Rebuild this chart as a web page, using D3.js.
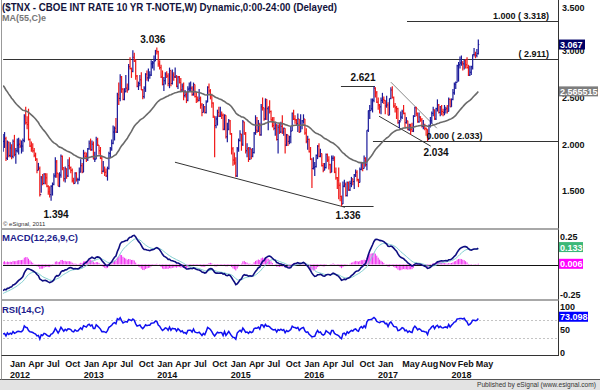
<!DOCTYPE html>
<html>
<head>
<meta charset="utf-8">
<script src="https://cdn.jsdelivr.net/npm/d3@7"></script>
<style>
  body { margin: 0; background: #fff; }
  svg { display: block; font-family: "Liberation Sans", Arial, sans-serif; }
</style>
</head>
<body>
<div id="chart"></div>
<script>
// Weekly closes before the first drawn bar (Dec 2010 - Nov 2011), only used to warm up the studies
const priorClose = [
  2.95, 3.32, 3.33, 3.39, 3.29, 3.32, 3.34, 3.40, 3.32, 3.64, 3.63, 3.58, 3.42,
  3.49, 3.40, 3.27, 3.44, 3.45, 3.58, 3.41, 3.40, 3.29, 3.15, 3.17, 3.15, 3.06,
  2.99, 2.97, 2.94, 2.87, 3.18, 3.03, 2.91, 2.96, 2.79, 2.56, 2.24, 2.07, 2.19,
  1.99, 1.92, 2.06, 1.84, 1.92, 2.08, 2.24, 2.23, 2.33, 2.04, 2.04, 2.01, 1.97
];

// First drawn weekly bar (Monday)
const firstWeek = "2011-11-28";

// Weekly close, one line per year (Dec 2011 ... May 2018)
const weekClose = [
  2.03, 2.06, 1.85, 2.02, 1.88,
  1.96, 1.87, 2.03, 1.89, 1.93, 1.99, 2.00, 1.98, 1.98, 2.04, 2.30, 2.23, 2.21, 2.05, 1.98, 1.96, 1.93, 1.88, 1.84, 1.72, 1.74, 1.46, 1.64, 1.58, 1.68, 1.64, 1.55, 1.49, 1.46, 1.55, 1.57, 1.66, 1.81, 1.69, 1.55, 1.67, 1.87, 1.75, 1.63, 1.74, 1.66, 1.77, 1.75, 1.72, 1.61, 1.58, 1.69, 1.62, 1.62, 1.70, 1.77, 1.70,
  1.90, 1.87, 1.84, 1.95, 2.01, 1.94, 2.00, 1.84, 1.84, 2.05, 1.99, 1.93, 1.85, 1.71, 1.72, 1.70, 1.66, 1.74, 1.90, 1.95, 2.01, 2.13, 2.17, 2.13, 2.53, 2.49, 2.72, 2.59, 2.48, 2.56, 2.60, 2.58, 2.83, 2.81, 2.78, 2.93, 2.89, 2.73, 2.62, 2.65, 2.69, 2.58, 2.51, 2.60, 2.75, 2.71, 2.74, 2.74, 2.86, 2.87, 2.89, 3.00,
  2.99, 2.86, 2.82, 2.72, 2.64, 2.68, 2.75, 2.73, 2.65, 2.79, 2.65, 2.74, 2.72, 2.72, 2.62, 2.72, 2.66, 2.58, 2.62, 2.52, 2.53, 2.47, 2.59, 2.60, 2.60, 2.53, 2.64, 2.51, 2.48, 2.47, 2.49, 2.42, 2.34, 2.40, 2.34, 2.45, 2.61, 2.57, 2.53, 2.44, 2.30, 2.20, 2.27, 2.34, 2.30, 2.32, 2.31, 2.16, 2.31, 2.08, 2.16, 2.25,
  2.11, 1.95, 1.83, 1.80, 1.66, 1.95, 2.04, 2.11, 2.00, 2.24, 2.11, 1.93, 1.95, 1.84, 1.95, 1.87, 1.91, 2.12, 2.15, 2.14, 2.21, 2.10, 2.40, 2.39, 2.27, 2.48, 2.38, 2.40, 2.35, 2.26, 2.20, 2.17, 2.20, 2.05, 2.18, 2.13, 2.19, 2.13, 2.17, 1.99, 2.10, 2.03, 2.08, 2.14, 2.33, 2.27, 2.26, 2.22, 2.27, 2.13, 2.20, 2.25,
  2.27, 2.12, 2.03, 2.05, 1.92, 1.84, 1.74, 1.75, 1.76, 1.88, 1.98, 1.87, 1.90, 1.77, 1.72, 1.75, 1.89, 1.83, 1.78, 1.70, 1.85, 1.85, 1.70, 1.64, 1.61, 1.56, 1.44, 1.36, 1.55, 1.57, 1.45, 1.59, 1.51, 1.58, 1.63, 1.60, 1.67, 1.70, 1.62, 1.59, 1.73, 1.80, 1.74, 1.85, 1.78, 2.15, 2.36, 2.36, 2.38, 2.47, 2.60, 2.55, 2.45,
  2.42, 2.40, 2.47, 2.48, 2.47, 2.41, 2.42, 2.31, 2.49, 2.58, 2.50, 2.41, 2.39, 2.38, 2.23, 2.24, 2.29, 2.35, 2.33, 2.23, 2.25, 2.16, 2.21, 2.16, 2.14, 2.30, 2.39, 2.33, 2.24, 2.29, 2.26, 2.19, 2.19, 2.17, 2.16, 2.05, 2.20, 2.25, 2.33, 2.37, 2.27, 2.38, 2.42, 2.34, 2.40, 2.35, 2.34, 2.37, 2.38, 2.35, 2.48, 2.40,
  2.48, 2.55, 2.64, 2.66, 2.84, 2.85, 2.87, 2.87, 2.86, 2.90, 2.85, 2.82, 2.74, 2.77, 2.83, 2.96, 2.96, 2.95, 2.97, 3.067
];

const weekHigh = [
  2.11, 2.13, 2.08, 2.04, 2.03,
  2.02, 2.00, 2.05, 2.10, 1.96, 2.06, 2.07, 2.05, 2.04, 2.06, 2.32, 2.40, 2.30, 2.38, 2.06, 2.03, 2.01, 1.96, 1.91, 1.85, 1.80, 1.76, 1.66, 1.68, 1.69, 1.69, 1.69, 1.56, 1.55, 1.56, 1.59, 1.69, 1.86, 1.83, 1.69, 1.70, 1.89, 1.88, 1.75, 1.76, 1.74, 1.84, 1.86, 1.76, 1.74, 1.64, 1.70, 1.70, 1.64, 1.75, 1.84, 1.80,
  1.94, 1.92, 1.91, 1.96, 2.04, 2.06, 2.04, 2.03, 1.92, 2.08, 2.07, 1.99, 1.97, 1.88, 1.82, 1.76, 1.74, 1.76, 1.92, 1.97, 2.05, 2.20, 2.19, 2.28, 2.55, 2.66, 2.75, 2.73, 2.60, 2.60, 2.74, 2.65, 2.86, 2.93, 2.82, 3.005, 2.98, 2.91, 2.74, 2.67, 2.74, 2.77, 2.59, 2.62, 2.76, 2.79, 2.81, 2.78, 2.90, 2.89, 2.95, 3.01,
  3.036, 3.00, 2.90, 2.85, 2.79, 2.72, 2.77, 2.78, 2.76, 2.82, 2.79, 2.80, 2.77, 2.82, 2.74, 2.73, 2.73, 2.71, 2.65, 2.66, 2.58, 2.56, 2.62, 2.66, 2.67, 2.62, 2.66, 2.64, 2.56, 2.51, 2.59, 2.51, 2.44, 2.43, 2.41, 2.47, 2.62, 2.65, 2.59, 2.54, 2.45, 2.30, 2.30, 2.37, 2.40, 2.40, 2.35, 2.33, 2.32, 2.31, 2.23, 2.27,
  2.26, 2.12, 1.97, 1.91, 1.86, 1.97, 2.06, 2.15, 2.11, 2.26, 2.24, 2.13, 2.01, 1.97, 1.97, 1.95, 1.96, 2.13, 2.31, 2.29, 2.26, 2.23, 2.43, 2.50, 2.39, 2.49, 2.48, 2.40, 2.47, 2.36, 2.29, 2.29, 2.24, 2.22, 2.21, 2.23, 2.24, 2.31, 2.18, 2.17, 2.11, 2.10, 2.09, 2.19, 2.34, 2.37, 2.31, 2.27, 2.33, 2.27, 2.32, 2.26,
  2.32, 2.27, 2.17, 2.09, 2.06, 1.97, 1.85, 1.86, 1.81, 1.89, 1.99, 2.01, 1.95, 1.90, 1.80, 1.80, 1.90, 1.90, 1.87, 1.79, 1.88, 1.88, 1.87, 1.75, 1.65, 1.75, 1.59, 1.45, 1.60, 1.62, 1.59, 1.60, 1.60, 1.61, 1.65, 1.63, 1.68, 1.73, 1.72, 1.63, 1.75, 1.81, 1.80, 1.88, 1.86, 2.15, 2.36, 2.42, 2.49, 2.49, 2.621, 2.61, 2.57,
  2.50, 2.43, 2.50, 2.55, 2.51, 2.47, 2.52, 2.45, 2.49, 2.61, 2.62, 2.51, 2.44, 2.41, 2.39, 2.26, 2.35, 2.37, 2.42, 2.34, 2.29, 2.25, 2.22, 2.22, 2.23, 2.31, 2.40, 2.40, 2.34, 2.34, 2.30, 2.28, 2.26, 2.22, 2.18, 2.16, 2.21, 2.29, 2.35, 2.40, 2.37, 2.39, 2.48, 2.43, 2.41, 2.42, 2.38, 2.42, 2.40, 2.42, 2.50, 2.49,
  2.49, 2.59, 2.66, 2.67, 2.85, 2.88, 2.94, 2.95, 2.89, 2.91, 2.91, 2.93, 2.85, 2.84, 2.84, 2.96, 3.03, 2.99, 3.02, 3.12
];

const weekLow = [
  1.92, 1.96, 1.82, 1.83, 1.86,
  1.86, 1.84, 1.85, 1.87, 1.79, 1.91, 1.89, 1.96, 1.90, 1.92, 2.02, 2.21, 2.16, 2.04, 1.97, 1.92, 1.91, 1.86, 1.82, 1.69, 1.72, 1.44, 1.48, 1.56, 1.57, 1.57, 1.54, 1.46, 1.43, 1.394, 1.45, 1.56, 1.64, 1.64, 1.55, 1.54, 1.64, 1.72, 1.60, 1.59, 1.63, 1.65, 1.73, 1.69, 1.59, 1.57, 1.58, 1.60, 1.57, 1.61, 1.70, 1.69,
  1.70, 1.84, 1.81, 1.82, 1.94, 1.93, 1.93, 1.84, 1.81, 1.84, 1.98, 1.89, 1.84, 1.68, 1.70, 1.66, 1.65, 1.61, 1.73, 1.85, 1.93, 2.00, 2.04, 2.12, 2.12, 2.42, 2.46, 2.55, 2.47, 2.47, 2.56, 2.55, 2.58, 2.80, 2.71, 2.77, 2.88, 2.69, 2.61, 2.58, 2.62, 2.58, 2.48, 2.49, 2.56, 2.68, 2.67, 2.70, 2.73, 2.81, 2.79, 2.89,
  2.96, 2.83, 2.80, 2.71, 2.63, 2.57, 2.64, 2.71, 2.62, 2.60, 2.62, 2.64, 2.68, 2.71, 2.61, 2.59, 2.65, 2.57, 2.57, 2.47, 2.50, 2.44, 2.46, 2.57, 2.57, 2.52, 2.52, 2.50, 2.44, 2.45, 2.46, 2.38, 2.30, 2.34, 2.33, 2.33, 2.45, 2.54, 2.48, 2.39, 2.28, 1.86, 2.17, 2.20, 2.29, 2.29, 2.27, 2.15, 2.15, 2.06, 2.02, 2.15,
  2.10, 1.89, 1.77, 1.78, 1.65, 1.65, 1.92, 2.03, 1.93, 1.98, 2.10, 1.90, 1.86, 1.81, 1.83, 1.84, 1.86, 1.90, 2.10, 2.12, 2.13, 2.09, 2.09, 2.36, 2.25, 2.26, 2.26, 2.15, 2.33, 2.25, 2.18, 2.15, 2.09, 2.04, 1.90, 2.11, 2.12, 2.11, 2.09, 1.90, 1.98, 1.98, 2.00, 2.01, 2.14, 2.26, 2.22, 2.20, 2.13, 2.12, 2.13, 2.16,
  2.22, 2.10, 2.01, 1.94, 1.91, 1.83, 1.53, 1.73, 1.66, 1.75, 1.84, 1.86, 1.86, 1.76, 1.70, 1.72, 1.74, 1.81, 1.73, 1.69, 1.70, 1.82, 1.69, 1.62, 1.52, 1.41, 1.39, 1.336, 1.36, 1.54, 1.44, 1.44, 1.50, 1.50, 1.54, 1.56, 1.52, 1.65, 1.60, 1.54, 1.59, 1.72, 1.71, 1.74, 1.76, 1.72, 2.13, 2.27, 2.36, 2.34, 2.45, 2.50, 2.44,
  2.37, 2.33, 2.32, 2.44, 2.43, 2.32, 2.39, 2.31, 2.31, 2.48, 2.49, 2.39, 2.34, 2.27, 2.22, 2.17, 2.25, 2.27, 2.32, 2.18, 2.22, 2.15, 2.14, 2.10, 2.13, 2.13, 2.29, 2.30, 2.23, 2.23, 2.24, 2.18, 2.16, 2.15, 2.09, 2.034, 2.05, 2.18, 2.22, 2.30, 2.26, 2.26, 2.35, 2.33, 2.30, 2.31, 2.30, 2.31, 2.33, 2.33, 2.35, 2.40,
  2.40, 2.47, 2.53, 2.59, 2.66, 2.67, 2.81, 2.84, 2.79, 2.80, 2.81, 2.81, 2.73, 2.73, 2.74, 2.80, 2.94, 2.92, 2.93, 2.96
];

// Axis ticks
const priceTicks = [3.5, 3.0, 2.5, 2.0, 1.5];
const macdTicks = [0.25, -0.25];
const rsiTicks = [100, 50, 0];
const rsiBands = [70, 30];
const monthTicks = ["2012-01", "2012-04", "2012-07", "2012-10", "2013-01", "2013-04", "2013-07", "2013-10",
  "2014-01", "2014-04", "2014-07", "2014-10", "2015-01", "2015-04", "2015-07", "2015-10",
  "2016-01", "2016-04", "2016-07", "2016-10", "2017-01", "2017-05", "2017-08", "2017-11", "2018-02", "2018-05"];
const yearTicks = [2012, 2013, 2014, 2015, 2016, 2017, 2018];

// Last values shown in the right-hand boxes
const maLast = 2.565515;
const macdLast = 0.133;
const histLast = 0.006;
const rsiLast = 73.098;

// Drawn levels and trend lines (date, price)
const levels = [
  { value: 2.911, from: "2011-11-28", to: null, label: "( 2.911)" },
  { value: 3.318, from: "2017-05-25", to: null, label: "1.000 ( 3.318)" },
  { value: 2.033, from: "2016-12-07", to: null, label: null },
  { value: 2.621, from: "2016-07-01", to: "2016-12-17", label: null },
  { value: 1.336, from: "2016-07-06", to: "2016-12-10", label: null }
];
const trendLines = [
  { a: ["2014-03-30", 1.807], b: ["2016-07-21", 1.325], color: "#333" },
  { a: ["2017-03-06", 2.664], b: ["2017-10-20", 2.171], color: "#888" },
  { a: ["2017-01-06", 2.300], b: ["2017-09-20", 1.979], color: "#333" }
];
// Turning point labels: week of the bar, printed value, pixel offset
const pivots = [
  { week: "2013-12-30", value: 3.036, dx: -4, dy: -4.5 },
  { week: "2012-07-23", value: 1.394, dx: 5, dy: 17 },
  { week: "2016-12-12", value: 2.621, dx: -11, dy: -5 },
  { week: "2016-07-04", value: 1.336, dx: 6.5, dy: 13 },
  { week: "2017-09-04", value: 2.034, dx: 8.5, dy: 15 }
];

const width = 600, height = 390;
const left = 3, right = 558.5;
const parse = d3.timeParse("%Y-%m-%d");
const first = parse(firstWeek);
const dates = weekClose.map((d, i) => d3.timeDay.offset(first, 7 * i));
const n = weekClose.length;

// Studies: EMA(55), MACD(12,26,9), RSI(14)
function ema(values, len) {
  const k = 2 / (len + 1);
  let prev = values[0];
  return values.map((v, i) => i === 0 ? prev : (prev = v * k + prev * (1 - k)));
}
function rsiCalc(values, len) {
  const out = values.map(() => null);
  let g = 0, l = 0;
  for (let i = 1; i <= len; i++) {
    const d = values[i] - values[i - 1];
    if (d > 0) g += d; else l -= d;
  }
  g /= len; l /= len;
  out[len] = 100 - 100 / (1 + g / l);
  for (let i = len + 1; i < values.length; i++) {
    const d = values[i] - values[i - 1];
    g = (g * (len - 1) + Math.max(d, 0)) / len;
    l = (l * (len - 1) + Math.max(-d, 0)) / len;
    out[i] = l === 0 ? 100 : 100 - 100 / (1 + g / l);
  }
  return out;
}
const all = priorClose.concat(weekClose);
const off = priorClose.length;
const ma = ema(all, 55).slice(off);
const e12 = ema(all, 12), e26 = ema(all, 26);
const macdAll = e12.map((v, i) => v - e26[i]);
const sigAll = ema(macdAll, 9);
const macd = macdAll.slice(off), signal = sigAll.slice(off);
const hist = macd.map((v, i) => v - signal[i]);
const rsi = rsiCalc(all, 14).slice(off);

// Scales
const x = d3.scaleTime()
    .domain([new Date(2012, 0, 1), new Date(2017, 0, 1)])
    .range([10, 378]);
const y = d3.scaleLinear().domain([1.5, 3.5]).range([190.9, 4.1]);
const yM = d3.scaleLinear().domain([-0.25, 0.25]).range([293.5, 235.5]);
const yR = d3.scaleLinear().domain([0, 100]).range([352, 306.5]);

const svg = d3.select("#chart").append("svg")
    .attr("width", width)
    .attr("height", height);

svg.append("rect").attr("width", width).attr("height", height).attr("fill", "#fff");

// Clip regions for the three panes
const defs = svg.append("defs");
[["clipMain", 0, 228], ["clipMacd", 230, 299], ["clipRsi", 301, 356]].forEach(([id, y0, y1]) => {
    defs.append("clipPath").attr("id", id)
        .append("rect").attr("x", left).attr("y", y0).attr("width", right - left).attr("height", y1 - y0);
});

// Frame
svg.append("rect").attr("x", 0).attr("y", 379.5).attr("width", width).attr("height", 11).attr("fill", "#e3e3e3");
svg.append("line").attr("x1", 0).attr("x2", width).attr("y1", 379.5).attr("y2", 379.5).style("stroke", "#555");
svg.append("line").attr("x1", 1.5).attr("x2", 1.5).attr("y1", 0).attr("y2", 379.5).style("stroke", "#999");
svg.append("line").attr("x1", right).attr("x2", right).attr("y1", 0).attr("y2", 356).style("stroke", "#333");
svg.append("line").attr("x1", 1.5).attr("x2", right).attr("y1", 355.5).attr("y2", 355.5).style("stroke", "#333");
[229, 300].forEach(yy => {
    svg.append("line").attr("x1", 1.5).attr("x2", right).attr("y1", yy).attr("y2", yy)
        .style("stroke", "#a8a8a8").style("stroke-width", 2);
});

// ---- Price pane ----
const main = svg.append("g").attr("clip-path", "url(#clipMain)");

levels.forEach(l => {
    const x1 = Math.max(left, x(parse(l.from)));
    const x2 = l.to ? x(parse(l.to)) : right;
    main.append("line")
        .attr("x1", x1).attr("x2", x2)
        .attr("y1", Math.round(y(l.value)) + 0.5).attr("y2", Math.round(y(l.value)) + 0.5)
        .style("stroke", "#333").style("stroke-width", 1);
});

trendLines.forEach(t => {
    main.append("line")
        .attr("x1", x(parse(t.a[0]))).attr("y1", y(t.a[1]))
        .attr("x2", x(parse(t.b[0]))).attr("y2", y(t.b[1]))
        .style("stroke", t.color).style("stroke-width", 1);
});

// OHLC bars, open = previous close
const bars = main.selectAll(".bar")
    .data(weekClose.map((c, i) => ({
        date: dates[i], close: c, high: weekHigh[i], low: weekLow[i],
        open: i === 0 ? priorClose[priorClose.length - 1] : weekClose[i - 1]
    })))
    .join("g")
    .attr("class", "bar")
    .style("stroke", d => d.close >= d.open ? "#1a1a9a" : "#f01818");

bars.append("line")
    .attr("x1", d => x(d.date)).attr("x2", d => x(d.date))
    .attr("y1", d => y(d.high)).attr("y2", d => y(d.low))
    .style("stroke-width", 1.2);
bars.append("line")
    .attr("x1", d => x(d.date) - 1).attr("x2", d => x(d.date))
    .attr("y1", d => y(d.open)).attr("y2", d => y(d.open))
    .style("stroke-width", 1);
bars.append("line")
    .attr("x1", d => x(d.date)).attr("x2", d => x(d.date) + 1)
    .attr("y1", d => y(d.close)).attr("y2", d => y(d.close))
    .style("stroke-width", 1);

// EMA(55)
main.append("path")
    .datum(ma)
    .attr("d", d3.line().x((d, i) => x(dates[i])).y(d => y(d)))
    .style("fill", "none")
    .style("stroke", "#6a6a6a")
    .style("stroke-width", 1.6);

// Texts in the price pane
svg.append("text")
    .attr("x", 2).attr("y", 11)
    .attr("textLength", 335).attr("lengthAdjust", "spacingAndGlyphs")
    .style("font-size", "10px").style("font-weight", "bold").style("fill", "#14143c")
    .text("($TNX - CBOE INT RATE 10 YR T-NOTE,W) Dynamic,0:00-24:00 (Delayed)");
svg.append("text")
    .attr("x", 2).attr("y", 20.5)
    .style("font-size", "9px").style("font-weight", "bold").style("fill", "#777")
    .text("MA(55,C)e");

pivots.forEach(p => {
    svg.append("text")
        .attr("x", x(parse(p.week)) + p.dx)
        .attr("y", y(p.value) + p.dy)
        .attr("text-anchor", "middle")
        .style("font-size", "10px").style("font-weight", "bold").style("fill", "#111")
        .text(p.value.toFixed(3));
});

levels.filter(l => l.label).forEach(l => {
    svg.append("text")
        .attr("x", 549).attr("y", y(l.value) - 2)
        .attr("text-anchor", "end")
        .style("font-size", "9px").style("font-weight", "bold").style("fill", "#111")
        .text(l.label);
});
// 0.000 level of the retracement, starts at the Sep 2017 low
svg.append("text")
    .attr("x", x(parse("2017-09-04")) - 1).attr("y", y(2.033) - 2)
    .style("font-size", "9px").style("font-weight", "bold").style("fill", "#111")
    .text("0.000 ( 2.033)");

svg.append("text")
    .attr("x", 3).attr("y", 225.5)
    .style("font-size", "6px").style("fill", "#333")
    .text("\u00a9 eSignal, 2011");

// Price axis
svg.selectAll(".ptick")
    .data(priceTicks)
    .join("text")
    .attr("class", "ptick")
    .attr("x", 562)
    .attr("y", d => Math.max(10.5, y(d) + 3.5))
    .style("font-size", "9px").style("font-weight", "bold").style("fill", "#111")
    .text(d => d.toFixed(3));

// ---- MACD pane ----
const mg = svg.append("g").attr("clip-path", "url(#clipMacd)");
mg.selectAll(".hist")
    .data(hist)
    .join("line")
    .attr("class", "hist")
    .attr("x1", (d, i) => x(dates[i])).attr("x2", (d, i) => x(dates[i]))
    .attr("y1", yM(0)).attr("y2", d => yM(d))
    .style("stroke", "#f030f0").style("stroke-width", 1);
mg.append("line")
    .attr("x1", left).attr("x2", right)
    .attr("y1", Math.round(yM(0)) + 0.5).attr("y2", Math.round(yM(0)) + 0.5)
    .style("stroke", "#111");
mg.append("path")
    .datum(signal)
    .attr("d", d3.line().x((d, i) => x(dates[i])).y(d => yM(d)))
    .style("fill", "none").style("stroke", "#7fcfcf").style("stroke-width", 1);
mg.append("path")
    .datum(macd)
    .attr("d", d3.line().x((d, i) => x(dates[i])).y(d => yM(d)))
    .style("fill", "none").style("stroke", "#0d0d80").style("stroke-width", 1.6);

svg.append("text")
    .attr("x", 2).attr("y", 241)
    .style("font-size", "9.5px").style("font-weight", "bold").style("fill", "#1c1c8c")
    .text("MACD(12,26,9,C)");

svg.selectAll(".mtick")
    .data(macdTicks)
    .join("text")
    .attr("class", "mtick")
    .attr("x", 560)
    .attr("y", d => yM(d) + 4.5)
    .style("font-size", "9px").style("font-weight", "bold").style("fill", "#111")
    .text(d => d < 0 ? "-" + Math.abs(d).toFixed(2) : d.toFixed(2));

// ---- RSI pane ----
const rg = svg.append("g").attr("clip-path", "url(#clipRsi)");
rsiBands.forEach(b => {
    rg.append("line")
        .attr("x1", left).attr("x2", right)
        .attr("y1", Math.round(yR(b)) + 0.5).attr("y2", Math.round(yR(b)) + 0.5)
        .style("stroke", "#c4c4c4").style("stroke-dasharray", "2 2");
});
rg.append("path")
    .datum(rsi)
    .attr("d", d3.line().defined(d => d !== null).x((d, i) => x(dates[i])).y(d => yR(d)))
    .style("fill", "none").style("stroke", "#1010f0").style("stroke-width", 1.5);

svg.append("text")
    .attr("x", 2).attr("y", 313)
    .style("font-size", "9.5px").style("font-weight", "bold").style("fill", "#1c1c8c")
    .text("RSI(14,C)");

svg.selectAll(".rtick")
    .data(rsiTicks)
    .join("text")
    .attr("class", "rtick")
    .attr("x", 560)
    .attr("y", d => yR(d) + 3.5)
    .style("font-size", "9px").style("font-weight", "bold").style("fill", "#111")
    .text(d => d);

// ---- Last value boxes ----
const boxes = [
    { text: weekClose[n - 1].toFixed(3), yy: y(weekClose[n - 1]), w: 26, fill: "#000066" },
    { text: String(maLast), yy: y(maLast), w: 39, fill: "#7d7d7d" },
    { text: macdLast.toFixed(3), yy: yM(macdLast) - 2, w: 24, fill: "#3cb878" },
    { text: histLast.toFixed(3), yy: yM(histLast), w: 24, fill: "#ff00ff" },
    { text: String(rsiLast), yy: yR(rsiLast) - 2, w: 29, fill: "#0000ff" }
];
const bx = svg.selectAll(".lastbox").data(boxes).join("g").attr("class", "lastbox");
bx.append("rect")
    .attr("x", 559).attr("y", d => d.yy - 5)
    .attr("width", d => d.w).attr("height", 10)
    .attr("fill", d => d.fill);
bx.append("text")
    .attr("x", 560).attr("y", d => d.yy + 3.5)
    .style("font-size", "9px").style("font-weight", "bold").style("fill", "#fff")
    .text(d => d.text);

// ---- Time axis ----
const fmtMonth = d3.timeFormat("%b");
const parseMonth = d3.timeParse("%Y-%m");
svg.selectAll(".month")
    .data(monthTicks.map(parseMonth))
    .join("text")
    .attr("class", "month")
    .attr("x", d => x(d)).attr("y", 367)
    .style("font-size", "9px").style("font-weight", "bold").style("fill", "#111")
    .text(d => fmtMonth(d));
svg.selectAll(".year")
    .data(yearTicks)
    .join("text")
    .attr("class", "year")
    .attr("x", d => x(new Date(d, 0, 1))).attr("y", 378)
    .style("font-size", "9px").style("font-weight", "bold").style("fill", "#111")
    .text(d => d);

svg.append("text")
    .attr("x", 596).attr("y", 386.5)
    .attr("text-anchor", "end")
    .attr("textLength", 119).attr("lengthAdjust", "spacingAndGlyphs")
    .style("font-size", "6.5px").style("fill", "#333")
    .text("Published by eSignal (www.esignal.com)");
</script>
</body>
</html>
